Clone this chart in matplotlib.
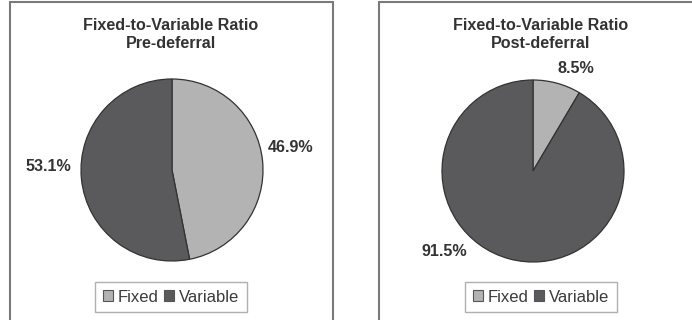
import matplotlib
matplotlib.use("Agg")
import matplotlib.pyplot as plt
from matplotlib.patches import Rectangle, Patch

plt.rcParams['font.family'] = ['Liberation Sans', 'DejaVu Sans']

# data
categories = ["Fixed", "Variable"]
pre_values = [46.9, 53.1]
post_values = [8.5, 91.5]
titles = ["Fixed-to-Variable Ratio\nPre-deferral", "Fixed-to-Variable Ratio\nPost-deferral"]

colors = ["#b3b3b3", "#5a5a5c"]

# label placement (data units of pie axes, radius = 1)
pre_label_pos = [(1.30, 0.25), (-1.36, 0.04)]
post_label_pos = [(0.47, 1.13), (-0.97, -0.89)]

W, H = 692, 320
fig = plt.figure(figsize=(W / 100, H / 100), dpi=100)

# panel frames
for x0, x1 in [(10, 333), (379, 705)]:
    fig.add_artist(Rectangle((x0 / W, -0.1), (x1 - x0) / W, 1.1 - 2 / H,
                             transform=fig.transFigure, fill=False,
                             edgecolor="#7a7a7a", linewidth=1.5))

panels = [
    (pre_values, pre_label_pos, 172, 170, 171),
    (post_values, post_label_pos, 533, 171, 541),
]
r = 91
for (vals, lpos, cx, cy, tx), title in zip(panels, titles):
    ax = fig.add_axes([(cx - r) / W, (H - cy - r) / H, 2 * r / W, 2 * r / H])
    wedges, texts = ax.pie(vals, colors=colors, startangle=90, counterclock=False,
                           labels=[f"{v:.1f}%" for v in vals],
                           wedgeprops=dict(edgecolor="#333333", linewidth=0.9),
                           textprops=dict(fontsize=11.6, fontweight="bold", color="#333333"))
    for t, p in zip(texts, lpos):
        t.set_position(p)
        t.set_ha("center")
        t.set_va("center")
    ax.set_xlim(-1, 1)
    ax.set_ylim(-1, 1)
    ax.set_aspect("auto")
    ax.axis("off")

    fig.text(tx / W, 1 - 34.5 / H, title, ha="center", va="center",
             fontsize=11.6, fontweight="bold", color="#333333", linespacing=1.3)

    handles = [Patch(facecolor=c, edgecolor="#555555", linewidth=0.8) for c in colors]
    fig.legend(handles, categories, loc="center", bbox_to_anchor=(tx / W, 1 - 297 / H),
               ncol=2, fontsize=12, frameon=True, fancybox=False,
               edgecolor="#b0b0b0", handlelength=0.6, handleheight=0.6,
               handletextpad=0.3, columnspacing=0.35, borderpad=0.45,
               labelcolor="#3a3a3a", framealpha=1)

fig.savefig("out.png", dpi=100)
